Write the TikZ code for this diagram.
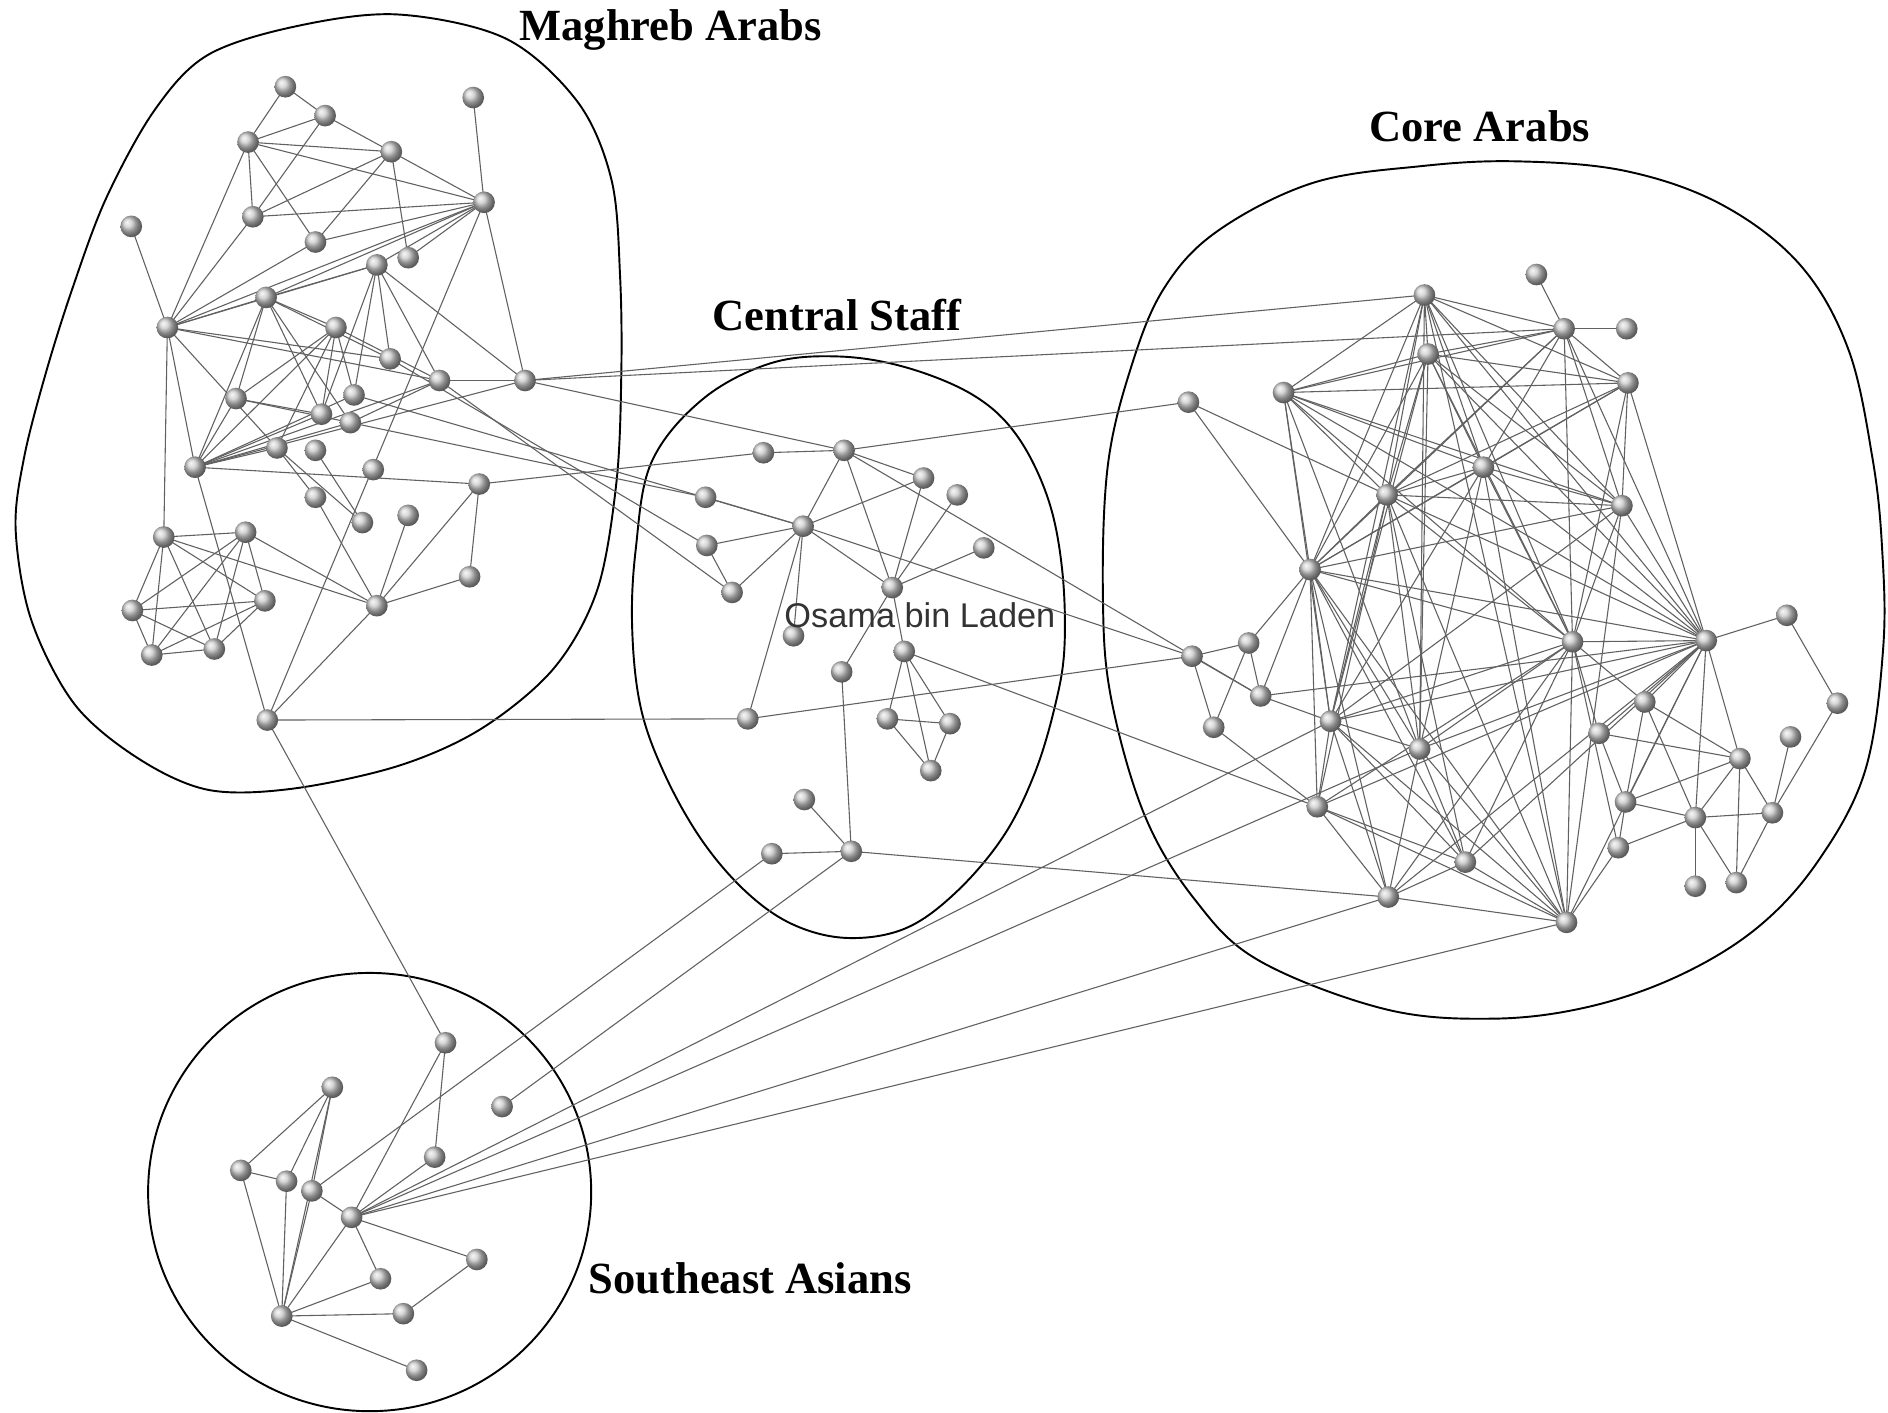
\documentclass[tikz,border=0pt]{standalone}
\usepackage{fontspec}
\setmainfont{Liberation Serif}
\newfontfamily\osfont{Liberation Sans}
\tikzset{
  ballnode/.style={circle, inner sep=0pt, minimum size=18pt, shading=ball, ball color=gray!42},
  edge/.style={draw=black!62, line width=0.9pt},
  hull/.style={draw=black, line width=1.6pt},
  grp/.style={font=\fontsize{37}{40}\selectfont\bfseries, inner sep=0pt},
}
\begin{document}
\begin{tikzpicture}[x=1pt,y=-1pt]
\useasboundingbox (0,0) rectangle (1568,1173);
\fill[white] (0,0) rectangle (1568,1173);
% hulls
\draw[hull] plot[smooth cycle, tension=0.55] coordinates {(330,12) (420,32) (480,85) (508,150) (515,230) (516,310) (512,400) (496,490) (460,555) (400,605) (331,636) (243,655) (173,656) (115,630) (62,585) (26,515) (13,440) (20,380) (38,310) (60,240) (88,165) (128,92) (172,46) (245,22)};
\draw[hull] plot[smooth cycle, tension=0.6] coordinates {(541,384) (583,332) (639,302) (695,296) (752,305) (808,328) (844,361) (870,413) (882,472) (884,538) (876,587) (859,643) (833,695) (794,741) (752,771) (704,779) (659,768) (620,741) (583,698) (552,643) (532,587) (525,521) (528,456)};
\draw[hull] plot[smooth cycle, tension=0.6] coordinates {(1011,192) (1090,152) (1180,138) (1260,134) (1350,142) (1430,170) (1495,220) (1535,290) (1555,380) (1563,454) (1564,538) (1549,640) (1510,715) (1460,770) (1395,810) (1320,836) (1240,846) (1150,838) (1046,798) (993,748) (951,678) (923,581) (916,498) (920,387) (940,303) (967,239)};
\draw[hull] (307,990) ellipse [x radius=184, y radius=182];
% nodes: Maghreb
\foreach \n/\x/\y in {M1/237/72, M2/270/96, M3/206/118, M4/325/126, M5/393/81, M6/402/168, M7/109/188, M8/210/180, M9/262/201, M10/313/220, M11/339/214, M12/221/247, M13/139/272, M14/279/272, M15/324/298, M16/365/316, M17/436/316, M18/196/331, M19/294/328, M20/267/344, M21/291/351, M22/230/372, M23/262/374, M24/162/388, M25/310/390, M26/398/402, M27/262/413, M28/301/434, M29/339/428, M30/136/446, M31/204/442, M32/110/507, M33/220/499, M34/126/544, M35/178/539, M36/313/503, M37/390/479, M38/222/598}
  \coordinate (\n) at (\x,\y);
% Central
\foreach \n/\x/\y in {C1/634/376, C2/701/374, C3/586/413, C4/767/397, C5/795/411, C6/667/437, C7/587/453, C8/817/455, C9/608/492, C10/741/488, C11/659/528, C12/751/541, C13/699/558, C14/621/597, C15/737/597, C16/789/601, C17/773/640, C18/668/664, C19/641/709, C20/707/707}
  \coordinate (\n) at (\x,\y);
% Core
\foreach \n/\x/\y in {A1/1183/245, A2/1276/228, A3/1299/273, A4/1351/273, A5/1186/294, A6/1066/326, A7/1352/318, A8/987/334, A9/1232/388, A10/1152/411, A11/1347/420, A12/1088/473, A13/1417/532, A14/1306/533, A15/1484/511, A16/990/545, A17/1037/534, A18/1047/578, A19/1008/604, A20/1105/599, A21/1179/622, A22/1366/583, A23/1328/609, A24/1526/584, A25/1487/612, A26/1445/630, A27/1094/670, A28/1350/666, A29/1408/679, A30/1472/675, A31/1217/716, A32/1344/704, A33/1408/736, A34/1442/733, A35/1153/745, A36/1301/766}
  \coordinate (\n) at (\x,\y);
% SE
\foreach \n/\x/\y in {S1/370/866, S2/276/903, S3/417/919, S4/361/961, S5/200/972, S6/238/981, S7/259/989, S8/292/1011, S9/396/1046, S10/316/1062, S11/335/1091, S12/234/1093, S13/346/1138}
  \coordinate (\n) at (\x,\y);
% edges
\foreach \a/\b in {M1/M2, M1/M3, M2/M3, M2/M4, M2/M8, M3/M4, M3/M6, M3/M8, M3/M9, M3/M13, M4/M6, M4/M8, M4/M9, M4/M11, M5/M6, M6/M8, M6/M9, M6/M10, M6/M11, M6/M12, M6/M13, M6/M17, M6/M38, M7/M13, M8/M13, M9/M13, M10/M13, M10/M12, M10/M15, M10/M16, M10/M17, M10/M20, M10/M19, M12/M13, M12/M18, M12/M20, M12/M21, M12/M15, M12/M24, M12/M14, M13/M15, M13/M16, M13/M24, M13/M30, M13/M22, M14/M18, M14/M24, M14/M16, M14/M20, M14/M19, M14/M22, M16/M17, M16/M24, M16/M21, M17/M24, M18/M20, M18/M24, M19/M24, M20/M24, M21/M24, M22/M24, M22/M27, M22/M28, M23/M28, M24/M26, M26/M37, M26/M36, M36/M37, M36/M29, M36/M27, M36/M30, M36/M31, M36/M38, M24/M38, M30/M31, M30/M32, M30/M33, M30/M34, M30/M35, M31/M32, M31/M33, M31/M34, M31/M35, M32/M33, M32/M34, M32/M35, M33/M34, M33/M35, M34/M35}
  \draw[edge] (\a) -- (\b);
\foreach \a/\b in {C1/C2, C2/C6, C2/C10, C2/C4, C3/C6, C6/C4, C6/C7, C6/C9, C6/C10, C6/C11, C6/C14, C4/C10, C5/C10, C8/C10, C10/C12, C10/C13, C12/C15, C12/C16, C12/C17, C15/C16, C15/C17, C16/C17, C13/C20, C18/C20, C19/C20, C7/C9}
  \draw[edge] (\a) -- (\b);
\foreach \a/\b in {A1/A3, A1/A5, A1/A6, A1/A9, A1/A10, A1/A12, A1/A14, A1/A13, A1/A11, A1/A21, A1/A36, A1/A20, A1/A7, A2/A3, A3/A4, A3/A5, A3/A6, A3/A7, A3/A9, A3/A10, A3/A12, A3/A14, A3/A11, A3/A13, A5/A6, A5/A9, A5/A10, A5/A12, A5/A7, A5/A13, A5/A14, A5/A11, A5/A20, A5/A21, A6/A7, A6/A9, A6/A10, A6/A12, A6/A11, A6/A13, A6/A14, A6/A20, A6/A21, A7/A9, A7/A10, A7/A12, A7/A11, A7/A13, A7/A14, A8/A10, A8/A12, A9/A10, A9/A12, A9/A13, A9/A14, A9/A11, A9/A20, A9/A21, A9/A36, A10/A11, A10/A12, A10/A13, A10/A14, A10/A20, A10/A21, A10/A27, A10/A31, A10/A36, A11/A12, A11/A13, A11/A14, A11/A36, A11/A20, A12/A13, A12/A14, A12/A20, A12/A21, A12/A27, A12/A31, A12/A35, A12/A36, A12/A17, A12/A18, A13/A14, A13/A15, A13/A20, A13/A21, A13/A22, A13/A23, A13/A26, A13/A28, A13/A29, A13/A27, A13/A35, A13/A36, A13/A31, A13/A18, A14/A20, A14/A21, A14/A36, A14/A23, A14/A22, A14/A27, A14/A31, A14/A35, A14/A32, A15/A24, A24/A30, A25/A30, A16/A17, A16/A19, A16/A18, A17/A19, A17/A18, A18/A20, A19/A27, A20/A27, A20/A35, A20/A31, A20/A36, A20/A21, A21/A35, A21/A31, A21/A36, A27/A35, A27/A31, A27/A36, A31/A35, A31/A36, A35/A36, A22/A26, A22/A28, A22/A29, A23/A28, A23/A26, A26/A28, A26/A29, A26/A30, A26/A34, A28/A29, A28/A32, A29/A30, A29/A33, A29/A34, A30/A34, A32/A36, A32/A29}
  \draw[edge] (\a) -- (\b);
\foreach \a/\b in {S1/S4, S1/S8, S2/S5, S2/S6, S2/S7, S2/S12, S5/S6, S5/S12, S6/S12, S7/S12, S7/S8, S8/S12, S8/S10, S8/S9, S9/S11, S12/S10, S12/S11, S12/S13, S4/S8}
  \draw[edge] (\a) -- (\b);
\foreach \a/\b in {M17/A1, M17/A3, M17/C2, M26/C1, M18/C3, M15/C7, M16/C9, M19/C6, M38/C14, M38/S1, C2/A8, C2/A18, C6/A16, C14/A16, C12/A27, C20/A35, C19/S7, C20/S3, S8/A20, S8/A21, S8/A35, S8/A36}
  \draw[edge] (\a) -- (\b);
% balls
\foreach \n in {M1,M2,M3,M4,M5,M6,M7,M8,M9,M10,M11,M12,M13,M14,M15,M16,M17,M18,M19,M20,M21,M22,M23,M24,M25,M26,M27,M28,M29,M30,M31,M32,M33,M34,M35,M36,M37,M38,
  C1,C2,C3,C4,C5,C6,C7,C8,C9,C10,C11,C12,C13,C14,C15,C16,C17,C18,C19,C20,
  A1,A2,A3,A4,A5,A6,A7,A8,A9,A10,A11,A12,A13,A14,A15,A16,A17,A18,A19,A20,A21,A22,A23,A24,A25,A26,A27,A28,A29,A30,A31,A32,A33,A34,A35,A36,
  S1,S2,S3,S4,S5,S6,S7,S8,S9,S10,S11,S12,S13}
  \node[ballnode] (b\n) at (\n) {};
% labels
\node[grp] (lm) at (557,25) {Maghreb Arabs};
\node[grp] (lc) at (695,262) {Central Staff};
\node[grp] (la) at (1229,105) {Core Arabs};
\node[grp] (ls) at (623,1062) {Southeast Asians};
\node[font=\osfont\fontsize{28.5}{30}\selectfont, inner sep=0pt, text=black!80] (lo) at (764,511) {Osama bin Laden};
\end{tikzpicture}
\end{document}
